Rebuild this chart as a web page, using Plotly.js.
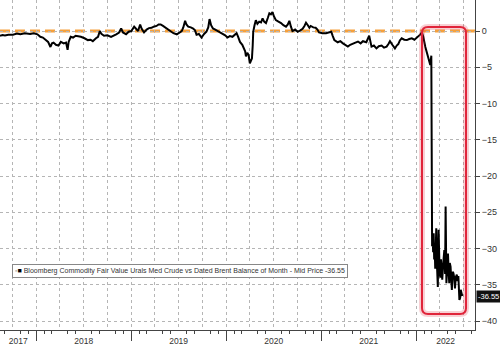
<!DOCTYPE html>
<html>
<head>
<meta charset="utf-8">
<script src="https://cdn.plot.ly/plotly-3.0.1.min.js"></script>
<style>html,body{margin:0;padding:0;background:#fff;}#chart{width:500px;height:349px;}</style>
</head>
<body>
<div id="chart"></div>
<script>
const dates = [
"2017-08-14","2017-08-24","2017-09-02","2017-09-15","2017-10-03","2017-10-18","2017-10-31","2017-11-18","2017-12-08","2017-12-22",
"2018-01-05","2018-01-16","2018-01-26","2018-02-05","2018-02-15","2018-02-24","2018-03-02","2018-03-08","2018-03-17","2018-03-27",
"2018-04-05","2018-04-16","2018-04-25","2018-05-01","2018-05-05","2018-05-13","2018-05-22","2018-06-01","2018-06-10","2018-06-21",
"2018-07-05","2018-07-18","2018-07-28","2018-08-06","2018-08-18","2018-08-26","2018-09-02","2018-09-08","2018-09-18","2018-10-01",
"2018-10-15","2018-10-25","2018-11-04","2018-11-15","2018-11-23","2018-11-30","2018-12-12","2018-12-22",
"2019-01-01","2019-01-12","2019-01-20","2019-01-27","2019-02-04","2019-02-10","2019-02-19","2019-03-01","2019-03-10","2019-03-20",
"2019-03-28","2019-04-08","2019-04-16","2019-04-24","2019-05-03","2019-05-13","2019-05-22","2019-05-31","2019-06-12","2019-06-25",
"2019-07-05","2019-07-14","2019-07-20","2019-07-27","2019-08-01","2019-08-08","2019-08-18","2019-08-27","2019-09-03","2019-09-09",
"2019-09-18","2019-09-28","2019-10-08","2019-10-17","2019-10-24","2019-10-29","2019-11-04","2019-11-11","2019-11-20","2019-11-30",
"2019-12-10","2019-12-19","2019-12-28",
"2020-01-06","2020-01-15","2020-01-25","2020-02-03","2020-02-10","2020-02-16","2020-02-23","2020-03-03","2020-03-10","2020-03-14",
"2020-03-17","2020-03-22","2020-03-27","2020-04-01","2020-04-05","2020-04-09","2020-04-12","2020-04-14","2020-04-19","2020-04-24",
"2020-04-30","2020-05-07","2020-05-14","2020-05-20","2020-05-26","2020-06-02","2020-06-09","2020-06-15","2020-06-21","2020-06-27",
"2020-07-03","2020-07-10","2020-07-20","2020-07-30","2020-08-08","2020-08-18","2020-08-25","2020-08-31","2020-09-06","2020-09-12",
"2020-09-22","2020-10-02","2020-10-12","2020-10-21","2020-10-28","2020-11-03","2020-11-10","2020-11-16","2020-11-21","2020-12-01",
"2020-12-10","2020-12-17","2020-12-23",
"2021-01-05","2021-01-19","2021-01-28","2021-02-08","2021-02-14","2021-02-20","2021-03-05","2021-03-15","2021-03-25","2021-04-03",
"2021-04-13","2021-04-22","2021-05-02","2021-05-12","2021-05-22","2021-06-01","2021-06-10","2021-06-23","2021-07-04","2021-07-08",
"2021-07-13","2021-07-22","2021-08-01","2021-08-10","2021-08-21","2021-08-30","2021-09-09","2021-09-16","2021-09-22","2021-10-01",
"2021-10-11","2021-10-18","2021-10-24","2021-10-30","2021-11-06","2021-11-16","2021-11-26","2021-12-05","2021-12-15","2021-12-25",
"2022-01-04","2022-01-10","2022-01-16","2022-01-23","2022-01-28","2022-02-05","2022-02-11","2022-02-16","2022-02-24","2022-02-28",
"2022-03-01","2022-03-02","2022-03-03","2022-03-05","2022-03-07","2022-03-09","2022-03-11","2022-03-13","2022-03-15","2022-03-17",
"2022-03-19","2022-03-22","2022-03-25","2022-03-28","2022-03-30","2022-04-01","2022-04-04","2022-04-06","2022-04-09","2022-04-11",
"2022-04-15","2022-04-19","2022-04-22","2022-04-24","2022-04-27","2022-04-30","2022-05-03","2022-05-06","2022-05-08","2022-05-10",
"2022-05-13","2022-05-16","2022-05-18","2022-05-21","2022-05-24","2022-05-27","2022-05-30","2022-06-02","2022-06-06","2022-06-09",
"2022-06-12","2022-06-16","2022-06-19","2022-06-21","2022-06-24","2022-06-27"
];
const values = [
-0.65,-0.55,-0.6,-0.5,-0.5,-0.35,-0.45,-0.3,-0.4,-0.3,
-0.45,-0.8,-0.9,-1.25,-1.5,-2.2,-1.7,-1.6,-1.9,-2.0,
-1.5,-1.7,-1.6,-2.6,-1.5,-0.8,-0.9,-0.65,-0.7,-0.8,
-1.0,-1.25,-1.2,-1.4,-1.0,-0.8,0,-0.4,-0.65,-0.6,
-0.8,-0.65,-0.45,-0.2,0.35,-0.2,-0.45,-0.1,
0,0.6,0.2,0,0.9,0.3,-0.2,0.2,0.4,0.45,
0.6,0.7,0.9,0.9,0.7,0.45,0.2,-0.1,-0.3,-0.45,
-0.2,0,0.5,1.4,0.9,0.6,0.5,0.35,0.1,-0.5,
-0.4,-0.9,-0.4,-0.1,0.5,1.65,0.8,0.35,0.2,0,
-0.2,-0.45,-0.6,
-0.9,-0.7,-0.8,-0.5,-0.3,-0.8,-1.5,-1.9,-2.4,-2.8,
-3.5,-3.0,-3.3,-4.45,-4.1,-3.8,-2.0,-0.1,0.8,1.5,
1.0,1.3,1.2,1.75,1.3,1.1,1.8,2.45,2.3,2.6,
2.0,1.5,1.3,1.1,0.8,0.6,0.9,1.4,0.6,0,
0.2,-0.1,0.1,0.3,0.7,1.15,0.8,0.45,0.7,0.5,
0.45,0.2,-0.2,
-0.3,-0.3,-0.2,-0.1,-0.7,-1.25,-1.55,-1.4,-1.7,-1.9,
-2.15,-1.9,-1.8,-1.6,-1.45,-1.7,-1.4,-1.55,-0.65,-1.6,
-2.15,-2.0,-2.4,-2.1,-2.0,-2.3,-2.15,-1.8,-1.4,-1.9,
-2.4,-2.0,-1.8,-1.3,-1.0,-1.2,-1.25,-1.1,-1.0,-1.2,
-0.9,-0.8,-0.5,-0.2,-0.8,-2.2,-3.0,-4.0,-4.7,-3.4,
-8.5,-17,-29.7,-28.0,-30.5,-27.9,-31.5,-29.9,-32.8,-29.3,
-27.2,-32.5,-35.3,-27.4,-31.0,-33.4,-34.0,-31.5,-33.0,-34.3,
-32.0,-30.2,-33.5,-24.2,-34.8,-33.0,-30.7,-33.5,-34.8,-32.0,
-32.5,-34.5,-35.7,-33.2,-33.4,-34.0,-35.5,-34.0,-33.6,-34.5,
-33.8,-37.1,-36.8,-35.7,-36.0,-36.55
];
const seriesName = "Bloomberg Commodity Fair Value Urals Med Crude vs Dated Brent Balance of Month - Mid Price";
const lastValue = -36.55;
const yTicks = [0,-5,-10,-15,-20,-25,-30,-35,-40];
const yearBounds = ["2018-01-01","2019-01-01","2020-01-01","2021-01-01","2022-01-01"];
const yearLabelPos = ["2017-10-23","2018-07-02","2019-07-02","2020-07-02","2021-07-02","2022-04-24"];
const yearLabels = ["2017","2018","2019","2020","2021","2022"];
const xRange = ["2017-08-14","2022-08-15"];
const yRange = [-41.24, 4.28];

const font = "Liberation Sans, Arial, sans-serif";

const traces = [
  {x: dates, y: values, type: "scatter", mode: "lines", line: {color: "#000", width: 2}, xaxis: "x", yaxis: "y", hoverinfo: "skip", showlegend: false},
  {x: dates, y: values, type: "scatter", mode: "lines", line: {color: "rgba(0,0,0,0)", width: 0}, xaxis: "x2", yaxis: "y", hoverinfo: "skip", showlegend: false},
  {x: dates, y: values, type: "scatter", mode: "lines", line: {color: "rgba(0,0,0,0)", width: 0}, xaxis: "x3", yaxis: "y", hoverinfo: "skip", showlegend: false}
];

// rounded highlight box in paper coordinates
const bx0 = 0.8884, bx1 = 0.9811, by0 = 0.0485, by1 = 0.9182, rx = 0.0126, ry = 0.0182;
const boxPath = `M ${bx0+rx},${by1} L ${bx1-rx},${by1} Q ${bx1},${by1} ${bx1},${by1-ry} L ${bx1},${by0+ry} Q ${bx1},${by0} ${bx1-rx},${by0} L ${bx0+rx},${by0} Q ${bx0},${by0} ${bx0},${by0+ry} L ${bx0},${by1-ry} Q ${bx0},${by1} ${bx0+rx},${by1} Z`;

const layout = {
  width: 500, height: 349,
  margin: {l: 0, r: 25, t: 0, b: 19, pad: 0},
  paper_bgcolor: "#fff", plot_bgcolor: "#fff",
  font: {family: font, size: 9, color: "#333"},
  showlegend: false,
  xaxis: {
    type: "date", range: xRange, tick0: "2017-10-01", dtick: "M3",
    showgrid: true, gridcolor: "#b5b5b5", griddash: "dot", gridwidth: 1,
    ticks: "", showticklabels: false, showline: true, linecolor: "#444", linewidth: 1,
    zeroline: false,
    minor: {tick0: "2017-09-01", dtick: "M1", ticks: "outside", ticklen: 3, tickcolor: "#444", tickwidth: 1, showgrid: false}
  },
  xaxis2: {
    type: "date", range: xRange, overlaying: "x", anchor: "y", side: "bottom",
    tickmode: "array", tickvals: yearBounds, ticks: "outside", ticklen: 10, tickcolor: "#444", tickwidth: 1,
    showticklabels: false, showgrid: false, showline: false, zeroline: false
  },
  xaxis3: {
    type: "date", range: xRange, overlaying: "x", anchor: "y", side: "bottom",
    tickmode: "array", tickvals: yearLabelPos, ticktext: yearLabels, ticks: "outside", ticklen: 3, tickcolor: "rgba(0,0,0,0)",
    tickfont: {family: font, size: 8.5, color: "#333"},
    showgrid: false, showline: false, zeroline: false
  },
  yaxis: {
    range: yRange, side: "right", tickmode: "array", tickvals: yTicks,
    ticks: "outside", ticklen: 4, tickcolor: "#444",
    tickfont: {family: font, size: 9, color: "#333"},
    showgrid: true, gridcolor: "#b5b5b5", griddash: "dot", gridwidth: 1,
    showline: true, linecolor: "#444", linewidth: 1, zeroline: false
  },
  shapes: [
    {type: "line", xref: "paper", x0: 0, x1: 1, yref: "y", y0: 0, y1: 0, layer: "between",
     line: {color: "#F5A03C", width: 3, dash: "10px,5px"}},
    {type: "path", xref: "paper", yref: "paper", path: boxPath, layer: "above",
     line: {color: "rgba(225,40,60,0.22)", width: 6}},
    {type: "path", xref: "paper", yref: "paper", path: boxPath, layer: "above",
     line: {color: "#E0243A", width: 2}}
  ],
  annotations: [
    {xref: "paper", yref: "paper", x: 0.0253, y: 0.1803, xanchor: "left", yanchor: "middle",
     text: '<span style="color:#bbb">▪</span><span style="color:#000">■</span> ' + seriesName + " " + lastValue.toFixed(2),
     showarrow: false, font: {family: font, size: 7, color: "#333"},
     bgcolor: "#fff", bordercolor: "#888", borderwidth: 1, borderpad: 2, align: "left"},
    {xref: "paper", yref: "y", x: 1, y: lastValue, xanchor: "left", yanchor: "middle", xshift: 1,
     text: lastValue.toFixed(2), showarrow: false, font: {family: font, size: 7.5, color: "#fff"},
     bgcolor: "#111", borderpad: 1}
  ]
};

Plotly.newPlot("chart", traces, layout, {staticPlot: true, displayModeBar: false});
</script>
</body>
</html>
